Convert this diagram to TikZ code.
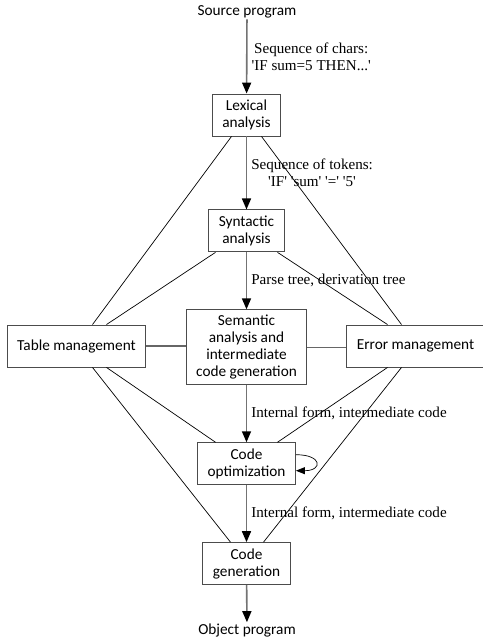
\documentclass[tikz,border=0pt]{standalone}
\usepackage{fontspec}
\setmainfont{Liberation Serif}
\newfontfamily\boxfont{Carlito}
\usetikzlibrary{arrows.meta}
\usetikzlibrary{positioning}

\newcommand{\q}{\textquotesingle}

\tikzset{
  box/.style={draw=black!70, line width=0.9pt, align=center, inner xsep=10pt,
    minimum height=42pt, font=\boxfont\fontsize{15.3}{17}\selectfont},
  endtext/.style={inner sep=1pt, font=\boxfont\fontsize{15.3}{17}\selectfont},
  flow/.style={draw=black!55, line width=1.6pt, -{Triangle[length=11pt,width=9pt,black]}},
  link/.style={draw=black, line width=0.7pt},
  hlink/.style={draw=black!60, line width=1.1pt},
  loopy/.style={draw=black, line width=0.7pt, -{Triangle[length=9pt,width=7pt]}},
  lbl/.style={anchor=west, align=center, inner sep=4pt, font=\fontsize{15.1}{17}\selectfont},
}

\begin{document}
\begin{tikzpicture}[x=1pt,y=-1pt]
	  \useasboundingbox (0,0) rectangle (482,637);

	  % Phases of the compiler
	  \node[endtext] (src) at (247,12) {Source program};
	  \node[box] (lex) at (246.5,115) {Lexical\\analysis};
	  \node[box, below=73pt of lex] (syn) {Syntactic\\analysis};
	  \node[box, below=57pt of syn, minimum height=75pt] (sem) {Semantic\\analysis and\\intermediate\\code generation};
	  \node[box, below=57pt of sem] (opt) {Code\\optimization};
	  \node[box, below=57pt of opt] (gen) {Code\\generation};
	  \node[endtext] (obj) at (247,630) {Object program};

	  % Side managers
	  \node[box] (tab) at (76.5,346) {Table management};
	  \node[box] (err) at (415.5,346) {Error management};

	  % Main flow with labels
	  \draw[flow] (src) -- node[lbl] {Sequence of chars:\\\q IF sum=5 THEN...\q} (lex);
	  \draw[flow] (lex) -- node[lbl] {Sequence of tokens:\\\q IF\q\ \q sum\q\ \q=\q\ \q 5\q} (syn);
	  \draw[flow] (syn) -- node[lbl] {Parse tree, derivation tree} (sem);
	  \draw[flow] (sem) -- node[lbl] {Internal form, intermediate code} (opt);
	  \draw[flow] (opt) -- node[lbl] {Internal form, intermediate code} (gen);
	  \draw[flow] (gen) -- (obj);

	  % Self loop on optimization
	  \draw[loopy] ([yshift=9pt]opt.east) to[out=0,in=0,looseness=4.3] ([yshift=-7pt]opt.east);

	  % Links to the managers
	  \draw[hlink] (tab.east) -- (tab.east -| sem.west);
	  \draw[hlink] (sem.east) -- (sem.east -| err.west);
	  \foreach \a/\da/\b/\db in {lex.south/-15/tab.north/16, lex.south/15/err.north/-14,
	                             syn.south/-31/tab.north/30, syn.south/31/err.north/-28,
	                             tab.south/30/opt.north/-31, tab.south/16/gen.north/-16,
	                             err.south/-28/opt.north/31, err.south/-14/gen.north/17} {
		\draw[link] ([xshift=\da pt]\a) -- ([xshift=\db pt]\b);
	  }
	\end{tikzpicture}
\end{document}
